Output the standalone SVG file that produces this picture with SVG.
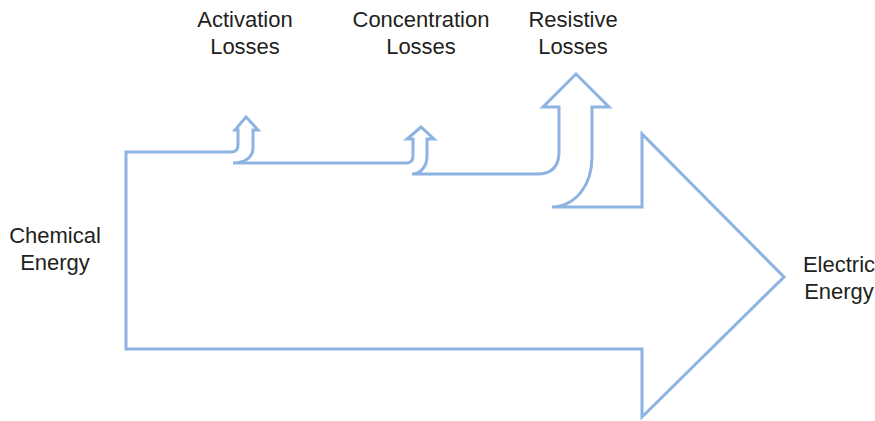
<svg xmlns="http://www.w3.org/2000/svg" width="875" height="421" viewBox="0 0 875 421">
<style>
.flow{fill:none;stroke:#8db3e2;stroke-width:3;stroke-linejoin:miter}
.lbl{font-family:"Liberation Sans",Arial,sans-serif;font-size:22px;fill:#231f20;text-anchor:middle}
</style>
<rect width="875" height="421" fill="#ffffff"/>
<g id="connectors">
<path id="energy-flow" class="flow" d="M126,152 H231 Q238,152 238,145 V130 H235 L246,117 L258,130 H253 V148 C253,157 245,163 233,163 H406 Q413,163 413,156 V139 H407 L421,127 L434,139 H427 V156 C427,166 421,174 412,174 H537 Q559,174 559,152 V107 H543 L576,74 L609,107 H592 V157 C592,185 576,206 552,207 H642 V134 L784,277 L642,417 V349 H126 Z"/>
</g>
<g id="chemical-energy"><text class="lbl" x="55" y="243">Chemical</text><text class="lbl" x="55" y="270">Energy</text></g>
<g id="activation-losses"><text class="lbl" x="245" y="27">Activation</text><text class="lbl" x="245" y="54">Losses</text></g>
<g id="concentration-losses"><text class="lbl" x="421" y="27">Concentration</text><text class="lbl" x="421" y="54">Losses</text></g>
<g id="resistive-losses"><text class="lbl" x="573" y="27">Resistive</text><text class="lbl" x="573" y="54">Losses</text></g>
<g id="electric-energy"><text class="lbl" x="839" y="272">Electric</text><text class="lbl" x="839" y="299">Energy</text></g>
</svg>
